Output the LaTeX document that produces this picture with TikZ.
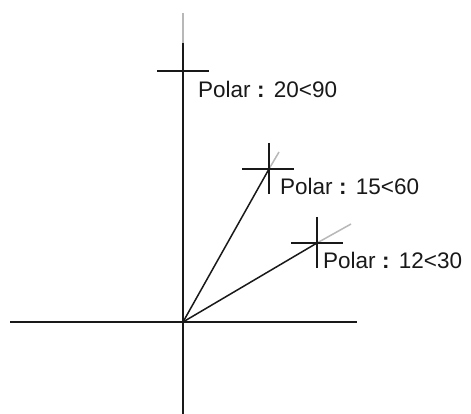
\documentclass[tikz,border=0pt]{standalone}
\usepackage{fontspec}
\usetikzlibrary{calc}
\setmainfont{Liberation Sans}
\newcommand{\pcolon}{\hspace{0.28em}\textbf{:}\hspace{0.42em}}
\begin{document}
\begin{tikzpicture}[x=1pt,y=-1pt,
  axisline/.style={draw=black!90, line width=1.9pt},
  rayline/.style={draw=black!90, line width=1.5pt},
  extline/.style={draw=black!28, line width=1.5pt},
  crossline/.style={draw=black!90, line width=1.9pt},
  lbl/.style={anchor=base west, inner sep=0pt, font=\fontsize{22.5}{27}\selectfont, text=black!90}]
\useasboundingbox[fill=white] (0,0) rectangle (471,414);
% key points
\coordinate (O) at (183,322);
\coordinate (A) at (183,71);
\coordinate (B) at (269,169);
\coordinate (C) at (317,243);
\coordinate (Xl) at (10,322);
\coordinate (Xr) at (357,322);
\coordinate (Yt) at (183,43);
\coordinate (Ytg) at (183,13);
\coordinate (Yb) at (183,414);
\coordinate (Bg) at (279,152);
\coordinate (Cg) at (351,224);
% axes
\draw[axisline] (Xl) -- (Xr);
\draw[extline] (Ytg) -- (Yt);
\draw[axisline] (Yt) -- (Yb);
% rays
\draw[rayline] (O) -- (B);
\draw[rayline] (O) -- (C);
\draw[extline] (B) -- (Bg);
\draw[extline] (C) -- (Cg);
% crosshairs
\draw[crossline] ($(A)+(-26,0)$) -- ($(A)+(26,0)$);
\draw[crossline] ($(B)+(-27,0)$) -- ($(B)+(25,0)$);
\draw[crossline] ($(B)+(0,-26)$) -- ($(B)+(0,25)$);
\draw[crossline] ($(C)+(-26,0)$) -- ($(C)+(26,0)$);
\draw[crossline] ($(C)+(0,-26)$) -- ($(C)+(0,25)$);
% labels
\node[lbl] (la) at (198,98) {Polar\pcolon 20<90};
\node[lbl] (lb) at (280,195) {Polar\pcolon 15<60};
\node[lbl] (lc) at (323,268) {Polar\pcolon 12<30};
\end{tikzpicture}
\end{document}
